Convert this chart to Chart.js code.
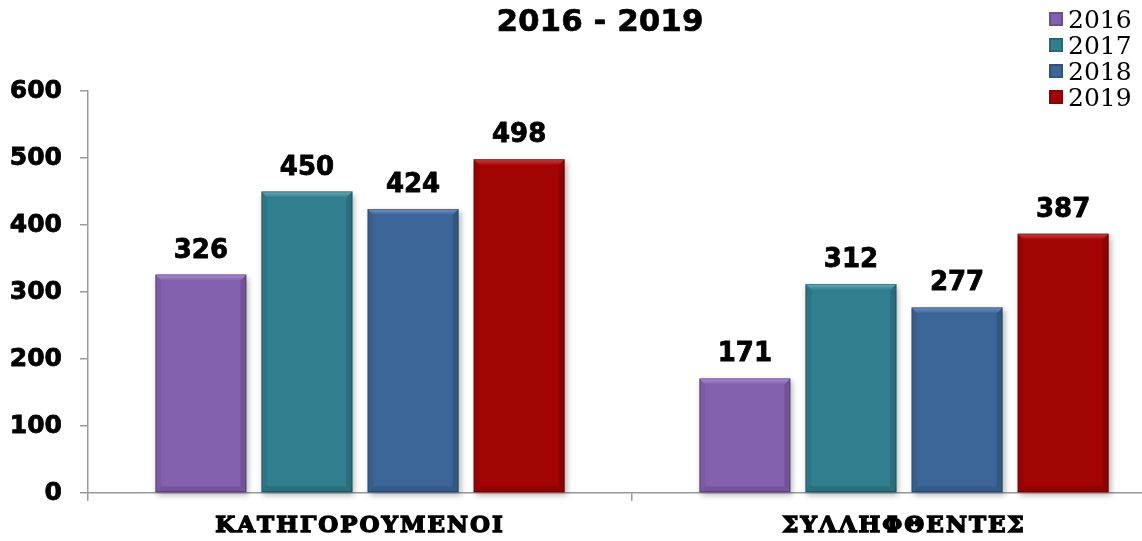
<!DOCTYPE html>
<html>
<head>
<meta charset="utf-8">
<script src="https://cdn.jsdelivr.net/npm/chart.js@4.4.1/dist/chart.umd.min.js"></script>
<style>
  html, body { margin: 0; padding: 0; background: #fff; overflow: hidden; }
  #wrap { position: relative; width: 1142px; height: 541px; overflow: hidden; }
  #box { position: absolute; left: 0; top: 0; width: 1180px; height: 541px; }
  #title { position: absolute; left: 0; top: 5px; width: 1200px; text-align: center;
           font: bold 31px 'DejaVu Sans'; line-height: 31px; color: #000; -webkit-text-stroke: 0.6px #000; }
  #legend { position: absolute; left: 1049px; top: 6px; font: 25px 'DejaVu Serif'; color: #000; }
  #legend div { height: 26px; display: flex; align-items: center; }
  #legend span.sw { display: inline-block; width: 14px; height: 14px; margin-right: 5px; }
</style>
</head>
<body>
<div id="wrap">
  <div id="box"><canvas id="grafico"></canvas></div>
  <div id="title">2016 - 2019</div>
  <div id="legend"></div>
</div>
<script>
// dados
var categorias = ["ΚΑΤΗΓΟΡΟΥΜΕΝΟΙ", "ΣΥΛΛΗΦΘΕΝΤΕΣ"];
var anos = ["2016", "2017", "2018", "2019"];
var v2016 = [326, 171];
var v2017 = [450, 312];
var v2018 = [424, 277];
var v2019 = [498, 387];
var yMin = 0, yMax = 600, yPasso = 100;

var cores = ['#8461AF', '#317E8E', '#3D6698', '#A30404'];
var coresClaras = ['#A98FD3', '#5DB3C5', '#6C95CE', '#DE3A3A'];
var valores = [v2016, v2017, v2018, v2019];

var legenda = document.getElementById("legend");
for (let i = 0; i < anos.length; i++) {
    legenda.innerHTML += `<div><span class="sw" style="background:${cores[i]};box-shadow:inset 0 0 0 2px rgba(0,0,0,0.18)"></span>${anos[i]}</div>`;
}

// sombra + bisel + rotulos
var efeitos = {
    id: 'efeitos',
    beforeDatasetsDraw(chart) {
        const ctx = chart.ctx;
        ctx.save();
        ctx.shadowColor = 'rgba(0,0,0,0.3)';
        ctx.shadowBlur = 6;
        ctx.shadowOffsetX = 2;
        ctx.shadowOffsetY = 3;
    },
    afterDatasetsDraw(chart) {
        const ctx = chart.ctx;
        ctx.restore();
        const b = 6;
        chart.data.datasets.forEach(function (ds, i) {
            const meta = chart.getDatasetMeta(i);
            meta.data.forEach(function (el, j) {
                const p = el.getProps(['x', 'y', 'base', 'width'], true);
                const l = p.x - p.width / 2, r = p.x + p.width / 2;
                const t = p.y, bo = p.base;
                // topo claro
                const g = ctx.createLinearGradient(0, t, 0, t + b);
                g.addColorStop(0, coresClaras[i]);
                g.addColorStop(1, cores[i]);
                ctx.fillStyle = g;
                ctx.beginPath();
                ctx.moveTo(l, t); ctx.lineTo(r, t); ctx.lineTo(r - b, t + b); ctx.lineTo(l + b, t + b);
                ctx.closePath(); ctx.fill();
                // lados
                ctx.fillStyle = 'rgba(0,0,0,0.07)';
                ctx.beginPath();
                ctx.moveTo(l, t); ctx.lineTo(l + b, t + b); ctx.lineTo(l + b, bo - b); ctx.lineTo(l, bo);
                ctx.closePath(); ctx.fill();
                ctx.fillStyle = 'rgba(0,0,0,0.14)';
                ctx.beginPath();
                ctx.moveTo(r, t); ctx.lineTo(r - b, t + b); ctx.lineTo(r - b, bo - b); ctx.lineTo(r, bo);
                ctx.closePath(); ctx.fill();
                ctx.fillStyle = 'rgba(0,0,0,0.12)';
                ctx.beginPath();
                ctx.moveTo(l, bo); ctx.lineTo(l + b, bo - b); ctx.lineTo(r - b, bo - b); ctx.lineTo(r, bo);
                ctx.closePath(); ctx.fill();
                ctx.strokeStyle = 'rgba(0,0,0,0.25)';
                ctx.lineWidth = 1;
                ctx.strokeRect(l + 0.5, t + 0.5, p.width - 1, bo - t - 1);

                ctx.fillStyle = '#000';
                ctx.strokeStyle = '#000';
                ctx.lineWidth = 0.8;
                ctx.font = 'bold 26px "DejaVu Sans"';
                ctx.textAlign = 'center';
                ctx.textBaseline = 'alphabetic';
                ctx.fillText(ds.data[j], p.x, t - 17);
                ctx.strokeText(ds.data[j], p.x, t - 17);
            });
        });
    }
};

var context1 = document.getElementById("grafico");
var grafico = new Chart(context1, {
    type: 'bar',
    data: {
        labels: categorias,
        datasets: anos.map(function (a, i) {
            return {
                label: a,
                data: valores[i],
                backgroundColor: cores[i],
                borderWidth: 0,
                categoryPercentage: 0.78,
                barPercentage: 0.858,
                clip: false
            };
        })
    },
    options: {
        responsive: true,
        maintainAspectRatio: false,
        animation: false,
        layout: {
            padding: { top: 91, left: 0, right: 4, bottom: 0 }
        },
        plugins: {
            legend: { display: false },
            title: { display: false },
            tooltip: { enabled: false }
        },
        scales: {
            x: {
                grid: {
                    drawOnChartArea: false,
                    color: '#9a9a9a',
                    tickLength: 8,
                    lineWidth: 1.5
                },
                border: { color: '#9a9a9a', width: 1.5 },
                ticks: {
                    color: '#000',
                    padding: 11,
                    textStrokeColor: '#000',
                    textStrokeWidth: 1.4,
                    font: { family: 'DejaVu Serif', weight: 'bold', size: 23 }
                },
                afterFit: function (s) { s.height = 48; },
                afterBuildTicks: function (s) {
                    if (!s._espaco) {
                        const orig = s.drawLabels;
                        s.drawLabels = function (area) {
                            this.ctx.save();
                            this.ctx.letterSpacing = '2px';
                            orig.call(this, area);
                            this.ctx.restore();
                        };
                        s._espaco = true;
                    }
                }
            },
            y: {
                min: yMin,
                max: yMax,
                grid: {
                    drawOnChartArea: false,
                    color: '#9a9a9a',
                    tickLength: 8,
                    lineWidth: 1.5
                },
                border: { color: '#9a9a9a', width: 1.5 },
                ticks: {
                    stepSize: yPasso,
                    color: '#000',
                    padding: 18,
                    textStrokeColor: '#000',
                    textStrokeWidth: 0.8,
                    font: { family: 'DejaVu Sans', weight: 'bold', size: 25 }
                },
                afterFit: function (s) { s.width = 88; }
            }
        }
    },
    plugins: [efeitos]
});
</script>
</body>
</html>
